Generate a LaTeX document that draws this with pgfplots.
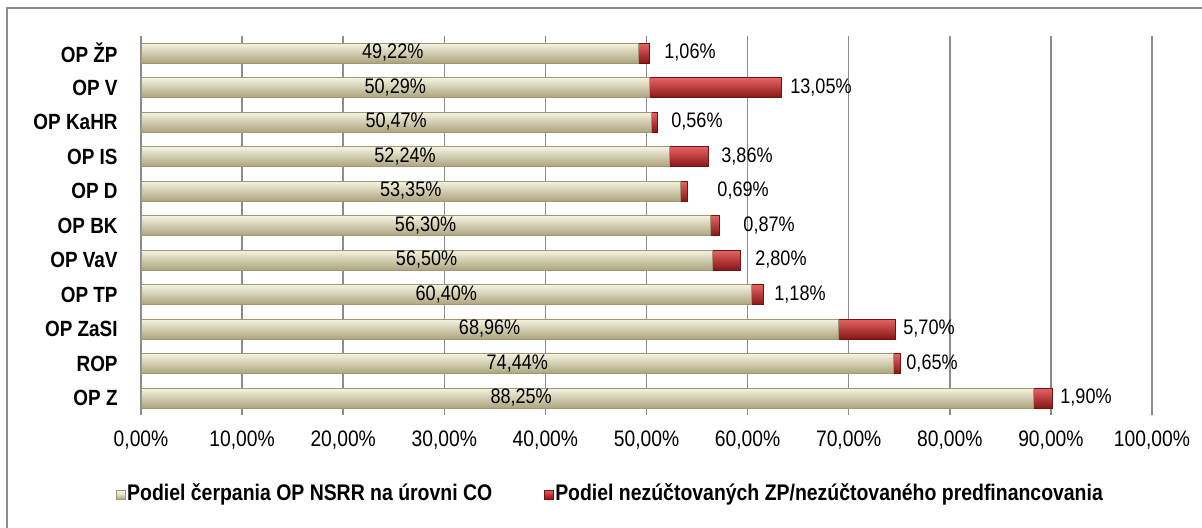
\documentclass[border=0pt]{standalone}
\usepackage{fontspec}
\setmainfont{Liberation Sans}[FakeStretch=0.86]
\usepackage{pgfplots}
\pgfplotsset{compat=1.18}
\usepackage{pgfplotstable}

\definecolor{beigeT}{RGB}{246,244,226}
\definecolor{beigeM}{RGB}{226,222,196}
\definecolor{beigeB}{RGB}{172,164,126}
\definecolor{beigeE}{RGB}{160,152,115}
\definecolor{redT}{RGB}{232,100,100}
\definecolor{redM}{RGB}{200,48,48}
\definecolor{redB}{RGB}{135,22,22}
\definecolor{redE}{RGB}{110,18,18}
\definecolor{gridc}{RGB}{140,140,140}

% y: 0 = OP Z (bottom) ... 10 = OP ZP (top)
% v1 = podiel cerpania, v2 = nezuctovane, tot = v1+v2, bx = label x of v1, rx = label start of v2
\pgfplotstableread{
y  v1     v2     tot    bx     rx
0  88.25  1.90   90.15  37.60  90.90
1  74.44  0.65   75.09  37.22  75.67
2  68.96  5.70   74.66  34.48  75.37
3  60.40  1.18   61.58  30.20  62.61
4  56.50  2.80   59.30  28.25  60.73
5  56.30  0.87   57.17  28.15  59.55
6  53.35  0.69   54.04  26.68  56.98
7  52.24  3.86   56.10  26.12  57.37
8  50.47  0.56   51.03  25.24  52.42
9  50.29  13.05  63.34  25.15  64.19
10 49.22  1.06   50.28  24.90  51.73
}\datatable

\begin{document}
\begin{tikzpicture}
\useasboundingbox (0,0) rectangle (601pt,263.5pt);
\draw[gridc, line width=0.75pt] (3.5pt,-5pt) -- (3.5pt,259.5pt) -- (610pt,259.5pt);
\begin{axis}[
  at={(70.5pt,55.875pt)}, anchor=south west,
  scale only axis, width=505.5pt, height=189.75pt,
  xmin=0, xmax=100, ymin=-0.5, ymax=10.5,
  axis lines*=left,
  x axis line style={draw=none},
  y axis line style={draw=gridc, line width=0.75pt},
  xtick={0,10,...,100},
  xticklabel={\pgfmathprintnumber[fixed,fixed zerofill,precision=2,use comma,assume math mode=true]{\tick}\%},
  ytick={0,...,10},
  yticklabels={OP Z,ROP,OP ZaSI,OP TP,OP VaV,OP BK,OP D,OP IS,OP KaHR,OP V,OP ŽP},
  major tick length=0pt,
  xtick style={draw=none}, ytick style={draw=none},
  xmajorgrids, major grid style={draw=gridc, line width=0.75pt},
  xticklabel style={font=\fontsize{11.2pt}{13pt}\selectfont, inner sep=0pt, anchor=north, yshift=-7.5pt},
  yticklabel style={font=\fontsize{11pt}{13pt}\selectfont\bfseries, inner sep=0pt, anchor=east, xshift=-11.5pt},
  legend columns=2,
  legend style={at={(0.464,-0.2075)}, anchor=center, draw=none, fill=none,
    font=\fontsize{11.3pt}{13pt}\selectfont\bfseries,
    /tikz/every even column/.append style={column sep=25pt},
    nodes={inner sep=0.8pt}},
  legend image code/.code={\draw[#1] (0pt,-2.6pt) rectangle (4.6pt,2.0pt);},
  nodes near coords style={font=\fontsize{10.5pt}{12pt}\selectfont, text=black},
  clip=false,
]
\addlegendimage{draw=beigeE, line width=0.3pt, top color=beigeT, bottom color=beigeB, middle color=beigeM}
\addlegendentry{Podiel čerpania OP NSRR na úrovni CO}
\addlegendimage{draw=redE, line width=0.3pt, top color=redT, bottom color=redB, middle color=redM}
\addlegendentry{Podiel nezúčtovaných ZP/nezúčtovaného predfinancovania}

\pgfplotsinvokeforeach{0,...,10}{
\addplot[forget plot, xbar, bar width=10pt, bar shift=0pt, draw=redE, line width=0.4pt,
  top color=redT, middle color=redM, bottom color=redB, restrict y to domain=#1:#1] table[x=tot, y=y] {\datatable};
}
\pgfplotsinvokeforeach{0,...,10}{
\addplot[forget plot, xbar, bar width=10pt, bar shift=0pt, draw=beigeE, line width=0.4pt,
  top color=beigeT, middle color=beigeM, bottom color=beigeB, restrict y to domain=#1:#1] table[x=v1, y=y] {\datatable};
}

\addplot[forget plot, draw=none, point meta=explicit,
  nodes near coords={\pgfmathprintnumber[fixed,fixed zerofill,precision=2,use comma,assume math mode=true]{\pgfplotspointmeta}\%},
  nodes near coords align={center}, every node near coord/.append style={anchor=center, inner sep=0pt}]
  table[x=bx, y=y, meta=v1] {\datatable};
\addplot[forget plot, draw=none, point meta=explicit,
  nodes near coords={\pgfmathprintnumber[fixed,fixed zerofill,precision=2,use comma,assume math mode=true]{\pgfplotspointmeta}\%},
  every node near coord/.append style={anchor=west, inner sep=0pt}]
  table[x=rx, y=y, meta=v2] {\datatable};
\end{axis}
\end{tikzpicture}
\end{document}
